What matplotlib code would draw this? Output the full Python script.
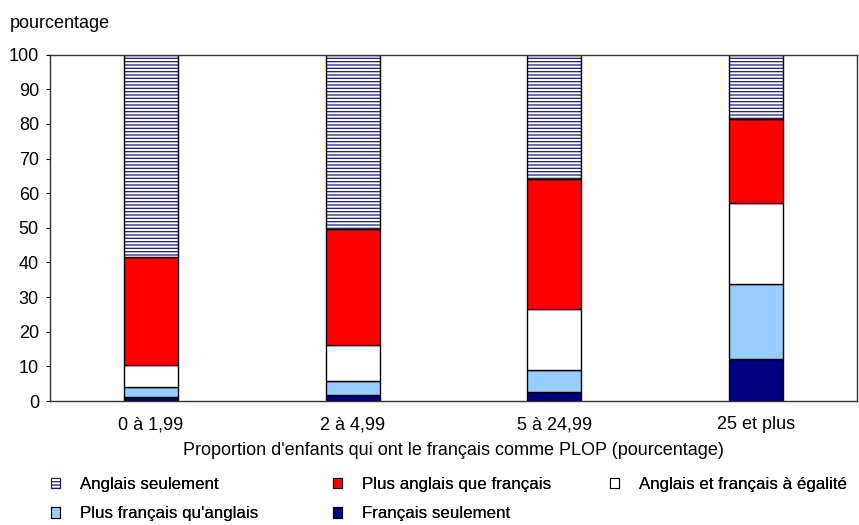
import numpy as np
import matplotlib
matplotlib.use('Agg')
import matplotlib.pyplot as plt
from matplotlib.patches import Patch

plt.rcParams['font.family'] = ['Liberation Sans', 'DejaVu Sans']
plt.rcParams['hatch.linewidth'] = 0.9

# Données (pourcentage)
categories = ['0 à 1,99', '2 à 4,99', '5 à 24,99', '25 et plus']
francais_seulement = [1.2, 1.8, 2.7, 12.0]
plus_francais = [2.7, 4.0, 6.3, 21.8]
egalite = [6.5, 10.3, 17.6, 23.5]
plus_anglais = [31.1, 33.6, 37.4, 24.1]
anglais_seulement = [58.5, 50.3, 36.0, 18.6]

fs = 13
fig = plt.figure(figsize=(8.59, 5.25), dpi=100)
ax = fig.add_axes([50 / 859, 1 - 401 / 525, 807 / 859, 346.3 / 525])

x = np.arange(len(categories))
w = 0.267
bottom = np.zeros(len(categories))

series = [
    (francais_seulement, '#000080'),
    (plus_francais, '#99ccff'),
    (egalite, 'white'),
    (plus_anglais, '#ff0000'),
]
for vals, col in series:
    ax.bar(x, vals, w, bottom=bottom, color=col, edgecolor='black', linewidth=1)
    bottom += np.array(vals)

# Anglais seulement : hachures horizontales bleu marine
ax.bar(x, anglais_seulement, w, bottom=bottom, color='white', edgecolor='#1a1a80',
       linewidth=0, hatch='-----')
ax.bar(x, anglais_seulement, w, bottom=bottom, fill=False, edgecolor='black', linewidth=1)

ax.set_xlim(-0.5, 3.5)
ax.set_ylim(0, 100)
ax.set_yticks(np.arange(0, 101, 10))
ax.set_xticks(x)
ax.set_xticklabels(categories, fontsize=fs)
ax.tick_params(axis='y', labelsize=fs, length=3, direction='out', pad=5)
ax.tick_params(axis='x', length=0, pad=11)
for s in ax.spines.values():
    s.set_color('#333333')
    s.set_linewidth(1)

ax.set_xlabel("Proportion d'enfants qui ont le français comme PLOP (pourcentage)",
              fontsize=fs, labelpad=6)
fig.text(10 / 859, 1 - 23 / 525, 'pourcentage', fontsize=fs, va='center', ha='left')

# Légende en trois colonnes
h_ang = Patch(facecolor='white', edgecolor='#1a1a80', hatch='-----', linewidth=0.8)
h_plang = Patch(facecolor='#ff0000', edgecolor='black', linewidth=0.8)
h_eg = Patch(facecolor='white', edgecolor='black', linewidth=0.8)
h_plfr = Patch(facecolor='#99ccff', edgecolor='black', linewidth=0.8)
h_fr = Patch(facecolor='#000080', edgecolor='black', linewidth=0.8)

lfs = 12.2
leg_kw = dict(frameon=False, fontsize=lfs, handlelength=0.55, handleheight=0.55,
              handletextpad=1.15, labelspacing=0.85, loc='upper left', borderaxespad=0,
              borderpad=0)
cols = [
    ([h_ang, h_plfr], ['Anglais seulement', "Plus français qu'anglais"], 51),
    ([h_plang, h_fr], ['Plus anglais que français', 'Français seulement'], 333),
    ([h_eg], ['Anglais et français à égalité'], 610),
]
for hs, labs, px in cols:
    lg = fig.legend(hs, labs, bbox_to_anchor=(px / 859, 1 - 477 / 525), **leg_kw)
    fig.add_artist(lg)

fig.savefig('out.png', dpi=100)
